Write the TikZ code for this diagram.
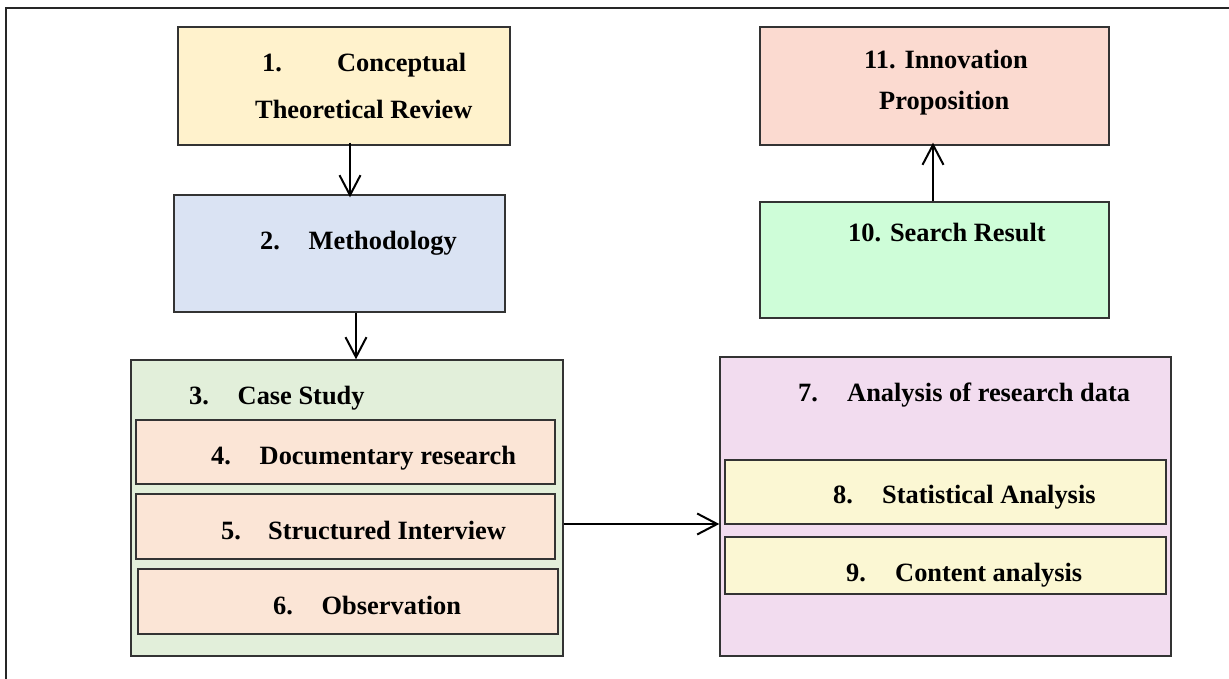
\documentclass[tikz,border=0pt]{standalone}
\usepackage{fontspec}
\setmainfont{Liberation Serif}
\usetikzlibrary{arrows.meta}
\definecolor{cA}{HTML}{FFF2CC}
\definecolor{cB}{HTML}{DAE3F3}
\definecolor{cC}{HTML}{E2EFDA}
\definecolor{cD}{HTML}{FBE5D6}
\definecolor{cE}{HTML}{F2DCEF}
\definecolor{cF}{HTML}{FBF7D3}
\definecolor{cG}{HTML}{CEFDD8}
\definecolor{cH}{HTML}{FBDAD0}
\definecolor{edge}{HTML}{333333}
\newcommand{\itm}[3][48.5pt]{\makebox[#1][l]{#2}#3}
\tikzset{
  box/.style={draw=edge, line width=1.4pt, inner sep=0pt, rectangle},
  txt/.style={anchor=base west, inner sep=0pt, font=\fontsize{26.4}{30}\selectfont\bfseries},
  arr/.style={line width=2pt, -{Straight Barb[length=20pt,width=21pt,line width=2pt]}}
}
\begin{document}
\begin{tikzpicture}[x=1pt,y=-1pt]
\useasboundingbox (0,0) rectangle (1229,679);
\draw[line width=2.4pt, draw=black!85] (6,679) -- (6,8) -- (1229,8);
% boxes
\node[box, fill=cA, minimum width=332pt, minimum height=118pt] (b1) at (344,86) {};
\node[box, fill=cB, minimum width=331pt, minimum height=117pt] (b2) at (339.5,253.5) {};
\node[box, fill=cC, minimum width=432pt, minimum height=296pt] (b3) at (347,508) {};
\node[box, fill=cD, minimum width=419pt, minimum height=64pt] (b4) at (345.5,452) {};
\node[box, fill=cD, minimum width=419pt, minimum height=65pt] (b5) at (345.5,526.5) {};
\node[box, fill=cD, minimum width=420pt, minimum height=65pt] (b6) at (348,601.5) {};
\node[box, fill=cE, minimum width=451pt, minimum height=299pt] (b7) at (945.5,506.5) {};
\node[box, fill=cF, minimum width=441pt, minimum height=64pt] (b8) at (945.5,492) {};
\node[box, fill=cF, minimum width=441pt, minimum height=57pt] (b9) at (945.5,565.5) {};
\node[box, fill=cH, minimum width=349pt, minimum height=118pt] (b11) at (934.5,86) {};
\node[box, fill=cG, minimum width=349pt, minimum height=116pt] (b10) at (934.5,260) {};
% texts
\node[txt] (t1a) at (262,72) {\itm[75pt]{1.}{Conceptual}};
\node[txt] (t1b) at (255,119) {Theoretical Review};
\node[txt] (t2) at (260,250) {\itm{2.}{Methodology}};
\node[txt] (t3) at (189,404) {\itm{3.}{Case Study}};
\node[txt] (t4) at (211,464) {\itm{4.}{Documentary research}};
\node[txt] (t5) at (221,539) {\itm[47pt]{5.}{Structured Interview}};
\node[txt] (t6) at (273,614) {\itm{6.}{Observation}};
\node[txt] (t7) at (798,401) {\itm[49pt]{7.}{Analysis of research data}};
\node[txt] (t8) at (833,503) {\itm[49pt]{8.}{Statistical Analysis}};
\node[txt] (t9) at (846,581) {\itm[49pt]{9.}{Content analysis}};
\node[txt] (t11a) at (864,69) {11. Innovation};
\node[txt] (t11b) at (879,110) {Proposition};
\node[txt] (t10) at (848,242) {10. Search Result};
% connectors
\coordinate (c1) at (350,0);
\coordinate (c2) at (356,0);
\coordinate (c3) at (0,524);
\coordinate (c4) at (933,0);
\draw[arr] ([yshift=3pt]b1.south -| c1) -- ([yshift=-3pt]b2.north -| c1);
\draw[arr] (b2.south -| c2) -- (b3.north -| c2);
\draw[arr] (b3.east |- c3) -- (b7.west |- c3);
\draw[arr] (b10.north -| c4) -- ([yshift=3pt]b11.south -| c4);
\end{tikzpicture}
\end{document}
